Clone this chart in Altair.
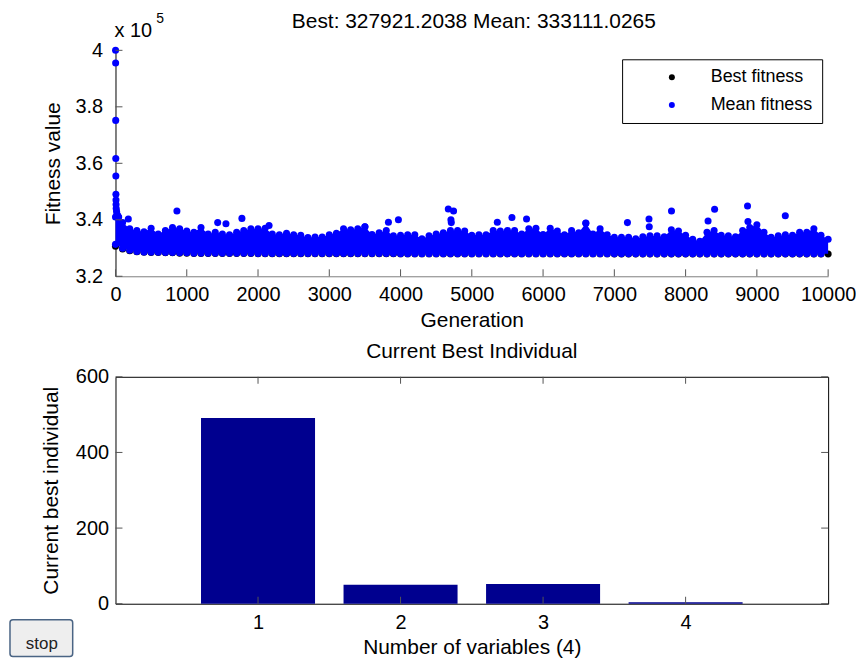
import altair as alt
import pandas as pd

FONT = "Liberation Sans"

# ---------------- data ----------------
generations = list(range(0, 10001, 100))

# upper edge of the dense "Mean fitness" cloud (x 1e5)
mean_upper = [3.410, 3.390, 3.368, 3.362, 3.358, 3.370, 3.350, 3.362, 3.373, 3.368,
              3.360, 3.356, 3.373, 3.350, 3.356, 3.350, 3.347, 3.356, 3.362, 3.368,
              3.368, 3.370, 3.350, 3.347, 3.352, 3.347, 3.345, 3.337, 3.339, 3.339,
              3.347, 3.352, 3.368, 3.365, 3.368, 3.375, 3.348, 3.354, 3.362, 3.343,
              3.345, 3.347, 3.347, 3.333, 3.343, 3.350, 3.354, 3.362, 3.362, 3.360,
              3.345, 3.347, 3.347, 3.362, 3.360, 3.362, 3.362, 3.350, 3.368, 3.370,
              3.348, 3.370, 3.360, 3.347, 3.362, 3.354, 3.388, 3.350, 3.368, 3.347,
              3.338, 3.338, 3.338, 3.333, 3.340, 3.343, 3.343, 3.340, 3.365, 3.360,
              3.345, 3.331, 3.324, 3.356, 3.362, 3.345, 3.343, 3.340, 3.362, 3.373,
              3.382, 3.356, 3.338, 3.343, 3.347, 3.345, 3.356, 3.356, 3.368, 3.345,
              3.331]

# lower edge of the "Mean fitness" cloud (x 1e5)
mean_lower = [3.313, 3.299, 3.292, 3.288, 3.286, 3.285, 3.285, 3.284, 3.284, 3.283,
              3.283, 3.282, 3.282, 3.282, 3.282, 3.282, 3.282, 3.282, 3.282, 3.282,
              3.281, 3.281, 3.281, 3.281, 3.281, 3.281, 3.281, 3.281, 3.281, 3.281,
              3.281, 3.281, 3.281, 3.281, 3.281, 3.281, 3.281, 3.281, 3.281, 3.281,
              3.280, 3.280, 3.280, 3.280, 3.280, 3.280, 3.280, 3.280, 3.280, 3.280,
              3.280, 3.280, 3.280, 3.280, 3.280, 3.280, 3.280, 3.280, 3.280, 3.280,
              3.280, 3.280, 3.280, 3.280, 3.280, 3.280, 3.280, 3.280, 3.280, 3.280,
              3.280, 3.280, 3.280, 3.280, 3.280, 3.280, 3.280, 3.280, 3.280, 3.280,
              3.280, 3.280, 3.280, 3.280, 3.280, 3.280, 3.280, 3.280, 3.280, 3.280,
              3.280, 3.280, 3.280, 3.280, 3.280, 3.280, 3.280, 3.280, 3.280, 3.280,
              3.280]

# best fitness per generation (x 1e5)
best_fitness = [3.306, 3.297, 3.290, 3.287, 3.285, 3.284, 3.284, 3.283, 3.283, 3.282,
                3.282, 3.281, 3.281, 3.281, 3.281, 3.281, 3.281, 3.281, 3.281, 3.281,
                3.280, 3.280, 3.280, 3.280, 3.280, 3.280, 3.280, 3.280, 3.280, 3.280,
                3.280, 3.280, 3.280, 3.280, 3.280, 3.280, 3.280, 3.280, 3.280, 3.280,
                3.2795, 3.2795, 3.2795, 3.2795, 3.2795, 3.2795, 3.2795, 3.2795, 3.2795, 3.2795,
                3.2795, 3.2795, 3.2795, 3.2795, 3.2795, 3.2795, 3.2795, 3.2795, 3.2795, 3.2795,
                3.2795, 3.2795, 3.2795, 3.2795, 3.2795, 3.2795, 3.2795, 3.2795, 3.2795, 3.2795,
                3.2793, 3.2793, 3.2793, 3.2793, 3.2793, 3.2793, 3.2793, 3.2793, 3.2793, 3.2793,
                3.2793, 3.2793, 3.2793, 3.2793, 3.2793, 3.2793, 3.2793, 3.2793, 3.2793, 3.2793,
                3.2792, 3.2792, 3.2792, 3.2792, 3.2792, 3.2792, 3.2792, 3.2792, 3.2792, 3.2792,
                3.27921]

# isolated mean-fitness outliers (generation, value x 1e5)
spike_gen = [1, 2, 3, 4, 5, 6, 7, 8, 10, 15, 20, 30, 45, 180, 862, 1434, 1550, 1774,
             2155, 3500, 3830, 3970, 4670, 4707, 4712, 4744, 5358, 5563, 5768, 6600,
             7184, 7486, 7490, 7802, 8315, 8407, 8869, 8875, 9399]
spike_val = [4.000, 3.955, 3.752, 3.617, 3.555, 3.490, 3.470, 3.454, 3.440, 3.430,
             3.420, 3.415, 3.410, 3.403, 3.431, 3.390, 3.386, 3.405, 3.380, 3.375,
             3.391, 3.400, 3.438, 3.400, 3.390, 3.431, 3.391, 3.408, 3.403, 3.389,
             3.390, 3.403, 3.375, 3.431, 3.396, 3.437, 3.449, 3.394, 3.414]

gen_ticks = [0, 1000, 2000, 3000, 4000, 5000, 6000, 7000, 8000, 9000, 10000]
fit_ticks = [3.2, 3.4, 3.6, 3.8, 4.0]

variables = [1, 2, 3, 4]
best_individual = [491, 50, 52, 4]
var_ticks = [1, 2, 3, 4]
ind_ticks = [0, 200, 400, 600]

series_names = ["Best fitness", "Mean fitness"]
title_text = "Best: 327921.2038 Mean: 333111.0265"
sub_title = "Current Best Individual"

# ---------------- layout constants ----------------
W = 716
H1 = 227
H2 = 228
TICK = 7
TICK_COLOR = "#555555"
BLUE = "#0000FF"

# ---------------- top panel ----------------
band = pd.DataFrame({"gen": generations, "upper": mean_upper, "lower": mean_lower})
best_df = pd.DataFrame({"gen": generations, "value": best_fitness})
best_df["series"] = series_names[0]
mean_df = pd.concat([
    pd.DataFrame({"gen": generations, "value": mean_upper}),
    pd.DataFrame({"gen": generations[:-1], "value": mean_lower[:-1]}),
    pd.DataFrame({"gen": spike_gen, "value": spike_val}),
], ignore_index=True)
mean_df["series"] = series_names[1]

xs = alt.Scale(domain=[0, 10000], nice=False, zero=False)
ys = alt.Scale(domain=[3.2, 4.0], nice=False, zero=False)

x_axis = alt.Axis(values=gen_ticks, format="d", title="Generation", ticks=False, grid=False,
                  domainColor="#7f7f7f", domainWidth=1, labelPadding=8, titlePadding=5,
                  labelFontSize=20, titleFontSize=21, labelFont=FONT, titleFont=FONT,
                  titleFontWeight="normal", labelColor="black", titleColor="black",
                  labelOverlap=False, labelFlush=False)
y_axis = alt.Axis(values=fit_ticks, labelExpr="datum.value == 4 ? '4' : format(datum.value, '.1f')",
                  title="Fitness value", ticks=False, grid=False, domainColor="black",
                  domainWidth=1, labelPadding=13, titlePadding=11,
                  labelFontSize=20, titleFontSize=21, labelFont=FONT, titleFont=FONT,
                  titleFontWeight="normal", labelColor="black", titleColor="black",
                  labelOverlap=False, labelFlush=False)

color = alt.Color("series:N",
                  scale=alt.Scale(domain=series_names, range=["#000000", BLUE]),
                  legend=alt.Legend(title=None, orient="none", legendX=509, legendY=9,
                                    direction="vertical", fillColor="white",
                                    strokeColor="black", padding=9, symbolType="circle",
                                    symbolSize=36, symbolStrokeWidth=0, symbolOffset=32,
                                    labelOffset=30, labelFont=FONT, labelFontSize=18,
                                    labelColor="black", rowPadding=10))

best_layer = alt.Chart(best_df).mark_circle(size=50, opacity=1).encode(
    x=alt.X("gen:Q", scale=xs, axis=x_axis),
    y=alt.Y("value:Q", scale=ys, axis=y_axis),
    color=color)

# solid body of the dense cloud between its lower and upper edges
area_layer = alt.Chart(band).mark_area(color=BLUE, opacity=1, orient="vertical").encode(
    x=alt.X("gen:Q", scale=xs, axis=x_axis),
    y=alt.Y("upper:Q", scale=ys, axis=y_axis),
    y2="lower:Q")

mean_layer = alt.Chart(mean_df).mark_circle(size=50, opacity=1).encode(
    x=alt.X("gen:Q", scale=xs, axis=x_axis),
    y=alt.Y("value:Q", scale=ys, axis=y_axis),
    color=color)

ytick_top = alt.Chart(pd.DataFrame({"tick": fit_ticks})).mark_rule(
    color=TICK_COLOR, strokeWidth=1).encode(
    y=alt.Y("tick:Q", scale=ys, axis=y_axis), x=alt.value(0), x2=alt.value(TICK))

xtick_top = alt.Chart(pd.DataFrame({"tick": gen_ticks})).mark_rule(
    color=TICK_COLOR, strokeWidth=1).encode(
    x=alt.X("tick:Q", scale=xs, axis=x_axis), y=alt.value(H1), y2=alt.value(H1 - TICK))

title_top = alt.Chart(pd.DataFrame({"t": [title_text]})).mark_text(
    font=FONT, fontSize=21, baseline="alphabetic", align="center", color="black").encode(
    text="t:N", x=alt.value(W / 2 + 2), y=alt.value(-22))

exp_base = alt.Chart(pd.DataFrame({"t": ["x 10"]})).mark_text(
    font=FONT, fontSize=20, baseline="alphabetic", align="left", color="black").encode(
    text="t:N", x=alt.value(-1), y=alt.value(-13))

exp_sup = alt.Chart(pd.DataFrame({"t": ["5"]})).mark_text(
    font=FONT, fontSize=14, baseline="alphabetic", align="left", color="black").encode(
    text="t:N", x=alt.value(41), y=alt.value(-27))

top = alt.layer(best_layer, area_layer, mean_layer, ytick_top, xtick_top,
                title_top, exp_base, exp_sup).properties(
    width=W, height=H1, view=alt.ViewBackground(strokeWidth=0))

# ---------------- bottom panel ----------------
bxs = alt.Scale(domain=[0, 5], nice=False, zero=False, padding=0)
bys = alt.Scale(domain=[0, 600], nice=False, padding=0)

bx_axis = alt.Axis(values=var_ticks, format="d", title="Number of variables (4)", ticks=False,
                   domain=False, grid=False, labelPadding=9, titlePadding=4,
                   labelFontSize=20, titleFontSize=21, labelFont=FONT, titleFont=FONT,
                   titleFontWeight="normal", labelColor="black", titleColor="black",
                   labelOverlap=False, labelFlush=False)
by_axis = alt.Axis(values=ind_ticks, format="d", title="Current best individual", ticks=False,
                   domain=False, grid=False, labelPadding=7, titlePadding=14,
                   labelFontSize=20, titleFontSize=21, labelFont=FONT, titleFont=FONT,
                   titleFontWeight="normal", labelColor="black", titleColor="black",
                   labelOverlap=False, labelFlush=False)

bars = alt.Chart(pd.DataFrame({"variable": variables, "value": best_individual})).transform_calculate(
    x0="datum.variable - 0.4", x1="datum.variable + 0.4").mark_rect(color="#00008F").encode(
    x=alt.X("x0:Q", scale=bxs, axis=bx_axis), x2="x1:Q",
    y=alt.Y("value:Q", scale=bys, axis=by_axis), y2=alt.datum(0))

vt = pd.DataFrame({"tick": var_ticks})
it = pd.DataFrame({"tick": ind_ticks})
xt_bot = alt.Chart(vt).mark_rule(color=TICK_COLOR, strokeWidth=1).encode(
    x=alt.X("tick:Q", scale=bxs, axis=bx_axis), y=alt.value(H2), y2=alt.value(H2 - TICK))
xt_top = alt.Chart(vt).mark_rule(color=TICK_COLOR, strokeWidth=1).encode(
    x=alt.X("tick:Q", scale=bxs, axis=bx_axis), y=alt.value(0), y2=alt.value(TICK))
yt_left = alt.Chart(it).mark_rule(color=TICK_COLOR, strokeWidth=1).encode(
    y=alt.Y("tick:Q", scale=bys, axis=by_axis), x=alt.value(0), x2=alt.value(TICK))
yt_right = alt.Chart(it).mark_rule(color=TICK_COLOR, strokeWidth=1).encode(
    y=alt.Y("tick:Q", scale=bys, axis=by_axis), x=alt.value(W - TICK), x2=alt.value(W))

title_bot = alt.Chart(pd.DataFrame({"t": [sub_title]})).mark_text(
    font=FONT, fontSize=21, baseline="alphabetic", align="center", color="black").encode(
    text="t:N", x=alt.value(W / 2), y=alt.value(-19))

button = alt.Chart(pd.DataFrame({"b": ["stop"]})).mark_rect(
    fill="#EEEEEE", stroke="#4A6484", strokeWidth=1.5, cornerRadius=3).encode(
    x=alt.value(-106), x2=alt.value(-43), y=alt.value(244), y2=alt.value(281))
button_text = alt.Chart(pd.DataFrame({"b": ["stop"]})).mark_text(
    font=FONT, fontSize=17, baseline="middle", align="center", color="#222222").encode(
    text="b:N", x=alt.value(-74), y=alt.value(268))

bottom = alt.layer(bars, xt_bot, xt_top, yt_left, yt_right, title_bot, button, button_text).properties(
    width=W, height=H2, view=alt.ViewBackground(stroke="black", strokeWidth=1))

chart = alt.vconcat(top, bottom, spacing=101, bounds="flush").properties(
    padding={"left": 0, "top": 2, "right": 0, "bottom": 0}
).configure(font=FONT).configure_view(strokeWidth=0)

chart.save("out.html", embed_options={"renderer": "svg", "actions": False})
